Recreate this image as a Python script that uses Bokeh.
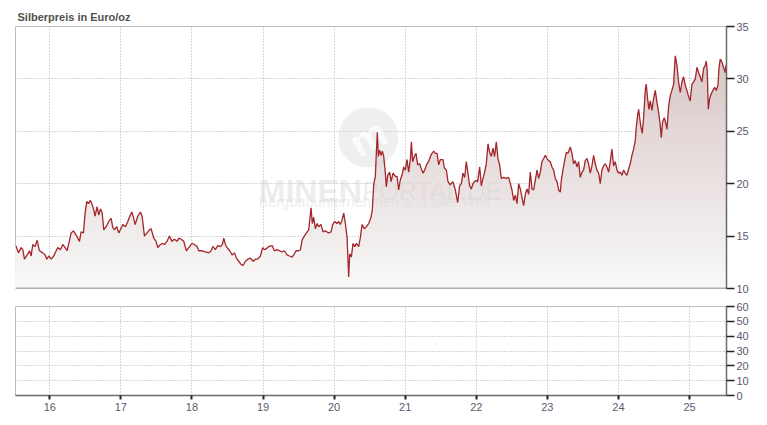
import numpy as np
from bokeh.plotting import figure
from bokeh.layouts import column
from bokeh.models import Range1d, FixedTicker, Span, Grid
from bokeh.embed import file_html
from bokeh.resources import INLINE
from bokeh.core.properties import value

# ---- data (decimal year, EUR/oz) ----
dates = [
    2015.518, 2015.527, 2015.560, 2015.597, 2015.621, 2015.644, 2015.682, 2015.715, 2015.738, 2015.761,
    2015.794, 2015.822, 2015.855, 2015.902, 2015.935, 2015.958, 2015.986, 2016.019, 2016.057, 2016.090,
    2016.113, 2016.150, 2016.183, 2016.216, 2016.244, 2016.268, 2016.301, 2016.333, 2016.371, 2016.418,
    2016.441, 2016.474, 2016.497, 2016.521, 2016.544, 2016.572, 2016.596, 2016.619, 2016.638, 2016.666,
    2016.690, 2016.713, 2016.737, 2016.760, 2016.793, 2016.830, 2016.863, 2016.887, 2016.910, 2016.943,
    2016.971, 2016.994, 2017.027, 2017.065, 2017.098, 2017.126, 2017.154, 2017.173, 2017.201, 2017.238,
    2017.276, 2017.299, 2017.332, 2017.369, 2017.402, 2017.426, 2017.463, 2017.496, 2017.519, 2017.557,
    2017.590, 2017.613, 2017.650, 2017.683, 2017.721, 2017.754, 2017.791, 2017.815, 2017.847, 2017.885,
    2017.922, 2017.955, 2018.002, 2018.035, 2018.072, 2018.096, 2018.143, 2018.190, 2018.237, 2018.269,
    2018.297, 2018.330, 2018.363, 2018.401, 2018.429, 2018.448, 2018.471, 2018.494, 2018.532, 2018.565,
    2018.598, 2018.626, 2018.658, 2018.691, 2018.719, 2018.752, 2018.785, 2018.823, 2018.860, 2018.893,
    2018.926, 2018.963, 2018.996, 2019.019, 2019.048, 2019.080, 2019.127, 2019.160, 2019.198, 2019.235,
    2019.268, 2019.301, 2019.338, 2019.371, 2019.409, 2019.432, 2019.465, 2019.502, 2019.526, 2019.549,
    2019.572, 2019.610, 2019.643, 2019.657, 2019.675, 2019.694, 2019.713, 2019.736, 2019.760, 2019.783,
    2019.816, 2019.844, 2019.877, 2019.924, 2019.957, 2019.980, 2020.008, 2020.041, 2020.065, 2020.088,
    2020.111, 2020.135, 2020.158, 2020.182, 2020.205, 2020.219, 2020.243, 2020.266, 2020.290, 2020.313,
    2020.346, 2020.370, 2020.393, 2020.426, 2020.454, 2020.487, 2020.519, 2020.538, 2020.557, 2020.580,
    2020.594, 2020.608, 2020.622, 2020.641, 2020.660, 2020.679, 2020.698, 2020.721, 2020.735, 2020.754,
    2020.782, 2020.801, 2020.829, 2020.862, 2020.885, 2020.908, 2020.932, 2020.955, 2020.979, 2021.002,
    2021.026, 2021.049, 2021.073, 2021.087, 2021.105, 2021.129, 2021.152, 2021.176, 2021.204, 2021.223,
    2021.251, 2021.274, 2021.307, 2021.330, 2021.354, 2021.377, 2021.401, 2021.424, 2021.448, 2021.471,
    2021.494, 2021.532, 2021.551, 2021.579, 2021.602, 2021.635, 2021.672, 2021.705, 2021.738, 2021.766,
    2021.790, 2021.813, 2021.837, 2021.860, 2021.883, 2021.907, 2021.930, 2021.954, 2021.987, 2022.019,
    2022.048, 2022.071, 2022.094, 2022.118, 2022.141, 2022.165, 2022.188, 2022.212, 2022.235, 2022.258,
    2022.282, 2022.305, 2022.329, 2022.352, 2022.385, 2022.418, 2022.455, 2022.479, 2022.502, 2022.526,
    2022.549, 2022.573, 2022.596, 2022.619, 2022.643, 2022.666, 2022.690, 2022.713, 2022.737, 2022.760,
    2022.784, 2022.807, 2022.830, 2022.854, 2022.877, 2022.901, 2022.924, 2022.948, 2022.971, 2022.995,
    2023.018, 2023.041, 2023.065, 2023.088, 2023.112, 2023.135, 2023.159, 2023.182, 2023.196, 2023.219,
    2023.243, 2023.266, 2023.290, 2023.323, 2023.346, 2023.369, 2023.393, 2023.416, 2023.440, 2023.463,
    2023.487, 2023.510, 2023.533, 2023.557, 2023.580, 2023.604, 2023.627, 2023.651, 2023.674, 2023.698,
    2023.721, 2023.744, 2023.768, 2023.791, 2023.815, 2023.838, 2023.862, 2023.885, 2023.908, 2023.932,
    2023.955, 2023.979, 2024.002, 2024.026, 2024.049, 2024.073, 2024.096, 2024.119, 2024.143, 2024.166,
    2024.190, 2024.213, 2024.237, 2024.251, 2024.269, 2024.284, 2024.298, 2024.316, 2024.335, 2024.354,
    2024.377, 2024.391, 2024.410, 2024.429, 2024.448, 2024.471, 2024.494, 2024.518, 2024.541, 2024.565,
    2024.588, 2024.602, 2024.621, 2024.645, 2024.668, 2024.682, 2024.705, 2024.729, 2024.752, 2024.776,
    2024.799, 2024.823, 2024.846, 2024.870, 2024.893, 2024.916, 2024.940, 2024.963, 2024.987, 2025.010,
    2025.034, 2025.057, 2025.081, 2025.104, 2025.128, 2025.151, 2025.174, 2025.198, 2025.221, 2025.235,
    2025.249, 2025.264, 2025.282, 2025.306, 2025.329, 2025.353, 2025.376, 2025.400, 2025.414, 2025.432,
    2025.456, 2025.479, 2025.503, 2025.512,
]
prices = [
    14.1, 14.0, 13.4, 13.9, 13.7, 12.8, 13.2, 13.6, 13.1, 14.2,
    14.0, 14.6, 13.6, 13.4, 13.2, 12.8, 13.1, 12.8, 13.1, 13.6,
    13.9, 13.7, 14.2, 13.9, 13.6, 14.3, 15.3, 15.5, 15.1, 14.5,
    15.4, 15.3, 17.2, 18.3, 18.1, 18.4, 18.0, 17.5, 16.9, 17.8,
    17.0, 17.6, 17.2, 15.6, 15.9, 16.4, 16.7, 15.8, 15.6, 15.9,
    15.3, 15.6, 16.1, 15.9, 16.4, 16.9, 17.3, 16.9, 16.1, 16.9,
    17.3, 16.9, 15.0, 15.3, 15.6, 15.7, 14.8, 14.5, 13.9, 14.2,
    14.3, 14.2, 14.5, 15.0, 14.5, 14.7, 14.5, 14.8, 14.7, 14.5,
    13.6, 13.9, 14.3, 14.2, 14.0, 13.6, 13.6, 13.5, 13.4, 13.6,
    14.0, 13.7, 14.1, 14.0, 14.2, 14.8, 14.2, 13.9, 13.6, 13.2,
    13.4, 12.9, 12.6, 12.3, 12.2, 12.6, 12.8, 12.9, 12.6, 12.8,
    12.8, 13.1, 13.9, 13.7, 13.8, 14.0, 14.1, 13.6, 13.7, 13.6,
    13.5, 13.6, 13.2, 13.1, 13.0, 13.2, 13.6, 13.6, 13.7, 14.6,
    14.9, 15.3, 15.6, 16.5, 17.7, 16.2, 16.8, 15.7, 16.2, 15.9,
    16.1, 15.4, 15.5, 15.3, 15.4, 16.1, 16.4, 16.2, 16.4, 16.1,
    16.5, 17.2, 16.2, 14.9, 11.1, 13.3, 13.0, 14.3, 14.0, 14.3,
    14.0, 14.9, 16.1, 15.7, 15.9, 16.2, 16.8, 17.5, 19.9, 20.7,
    22.9, 24.9, 22.6, 23.2, 22.7, 23.1, 22.6, 21.0, 19.7, 20.8,
    21.1, 20.2, 21.0, 20.7, 20.7, 19.4, 20.4, 20.8, 21.6, 21.3,
    22.3, 21.1, 22.3, 24.0, 22.1, 22.6, 22.9, 21.8, 21.9, 21.5,
    21.0, 21.3, 21.9, 22.1, 22.6, 22.9, 23.1, 22.9, 22.9, 21.8,
    22.3, 22.3, 21.5, 21.3, 20.2, 19.9, 20.2, 19.4, 18.2, 19.8,
    20.0, 21.0, 20.6, 22.1, 21.0, 19.8, 19.5, 20.0, 20.3, 20.2,
    21.6, 19.8, 20.5, 21.1, 21.9, 23.8, 23.0, 22.6, 23.4, 22.6,
    24.0, 22.4, 21.8, 20.5, 20.6, 20.5, 20.6, 20.0, 19.4, 18.4,
    18.9, 18.1, 20.0, 19.5, 18.7, 17.9, 19.0, 19.5, 19.0, 21.1,
    19.5, 19.4, 20.3, 21.3, 20.5, 21.1, 22.1, 22.4, 22.7, 22.4,
    22.2, 22.1, 21.6, 21.3, 20.5, 20.2, 19.4, 19.2, 20.3, 21.3,
    22.2, 23.0, 22.9, 23.5, 22.9, 21.9, 22.2, 21.6, 22.1, 20.6,
    21.1, 21.3, 22.2, 22.4, 21.9, 21.0, 21.7, 22.7, 21.9, 21.3,
    21.0, 20.0, 21.3, 21.7, 21.9, 21.6, 21.1, 22.1, 23.3, 21.7,
    22.1, 21.3, 21.0, 21.1, 20.8, 21.3, 21.0, 20.8, 21.4, 21.9,
    22.7, 23.3, 24.1, 25.4, 26.5, 27.1, 26.3, 25.4, 24.8, 26.3,
    28.9, 29.5, 28.1, 27.1, 27.9, 27.0, 28.1, 28.9, 27.8, 26.8,
    25.6, 24.4, 25.9, 26.3, 25.7, 25.2, 27.3, 28.4, 28.9, 29.5,
    32.2, 31.3, 29.7, 28.7, 29.7, 30.2, 29.4, 28.9, 28.3, 27.9,
    29.5, 29.7, 30.0, 31.1, 30.6, 30.2, 29.7, 31.0, 31.3, 31.7,
    30.8, 27.1, 28.1, 28.6, 28.9, 29.2, 28.9, 29.4, 31.0, 31.9,
    31.6, 31.1, 30.6, 31.3,
]
year_ticks = [2016, 2017, 2018, 2019, 2020, 2021, 2022, 2023, 2024, 2025]
year_labels = ["16", "17", "18", "19", "20", "21", "22", "23", "24", "25"]
price_ticks = [10, 15, 20, 25, 30, 35]
lower_ticks = [0, 10, 20, 30, 40, 50, 60]

FONT = "Liberation Sans"
LABEL_COLOR = "#5a5a70"
GRID_COLOR = "#b0b0b0"

x = np.array(dates)
y = np.array(prices)
x_range = Range1d(2015.518, 2025.52)

# ---------------- top panel ----------------
p = figure(frame_width=711, frame_height=262, x_range=x_range, y_range=Range1d(10, 35),
           x_axis_location=None, y_axis_location="right",
           output_backend="svg", toolbar_location=None,
           min_border_left=15, min_border_right=4, min_border_top=26, min_border_bottom=7,
           title="Silberpreis in Euro/oz")
p.title.text_font = FONT
p.title.text_font_size = "11px"
p.title.text_font_style = "bold"
p.title.text_color = "#505050"
p.title.align = "left"
p.title.offset = 2
p.title.standoff = 8
p.outline_line_color = "#bdbdbd"
p.outline_line_width = 1
p.background_fill_color = "white"
p.border_fill_color = "white"

p.xgrid.visible = False
p.ygrid.visible = False
p.add_layout(Grid(dimension=0, ticker=FixedTicker(ticks=year_ticks),
                  grid_line_color=GRID_COLOR, grid_line_dash="1 2"))
p.add_layout(Grid(dimension=1, ticker=FixedTicker(ticks=price_ticks[1:-1]),
                  grid_line_color=GRID_COLOR, grid_line_dash="1 2"))

# vertical gradient fill under the curve (stacked bands)
bottom_rgb = np.array([249, 248, 248])
top_rgb = np.array([212, 192, 192])
levels = np.arange(35.0, 10.0, -0.5)
for hi in levels:
    t = (hi - 0.25 - 10) / 25.0
    c = bottom_rgb + (top_rgb - bottom_rgb) * t
    col = "#%02x%02x%02x" % tuple(int(round(v)) for v in c)
    p.varea(x=x, y1=10, y2=np.minimum(y, hi), fill_color=col)

# faint watermark
p.scatter(x=[2020.48], y=[24.4], size=60, marker="circle", fill_color="#dcdcdc",
          line_color=None, fill_alpha=0.45)
p.text(x=[2020.48], y=[24.4], text=["m"], text_font=value(FONT), text_font_style="bold",
       text_font_size="40px", text_color="white", text_alpha=0.8,
       text_align="center", text_baseline="middle", angle=0.5)
p.text(x=[2018.94], y=[19.35], text=["MINEN"], text_font=value(FONT), text_font_style="bold",
       text_font_size="32px", text_color="#d6d6d6", text_alpha=0.45, text_baseline="alphabetic")
p.text(x=[2020.40], y=[19.35], text=["PORTAL.DE"], text_font=value(FONT),
       text_font_size="25px", text_color="#d6d6d6", text_alpha=0.45, text_baseline="alphabetic")
p.text(x=[2018.94], y=[18.25], text=["Bergbauunternehmen aus aller Welt"], text_font=value(FONT),
       text_font_size="14.5px", text_color="#d6d6d6", text_alpha=0.45, text_baseline="alphabetic")

p.line(x=x, y=y, line_color="#a3272b", line_width=1.3)

p.add_layout(Span(location=10, dimension="width", line_color="#6a6a6a", line_width=1.5))

ya = p.yaxis[0]
ya.ticker = FixedTicker(ticks=price_ticks)
ya.axis_line_color = "#6a6a6a"
ya.axis_line_width = 1.5
ya.major_tick_line_color = "#222222"
ya.major_tick_line_width = 1.5
ya.major_tick_in = 0
ya.major_tick_out = 8
ya.minor_tick_line_color = None
ya.major_label_standoff = 2
ya.major_label_text_font = FONT
ya.major_label_text_font_size = "11px"
ya.major_label_text_color = LABEL_COLOR

# ---------------- bottom panel ----------------
q = figure(frame_width=711, frame_height=89, x_range=x_range, y_range=Range1d(0, 60),
           y_axis_location="right", output_backend="svg", toolbar_location=None,
           min_border_left=15, min_border_right=4, min_border_top=11, min_border_bottom=0)
q.outline_line_color = "#bdbdbd"
q.background_fill_color = "white"
q.border_fill_color = "white"
q.xgrid.visible = False
q.ygrid.visible = False
q.add_layout(Grid(dimension=0, ticker=FixedTicker(ticks=year_ticks),
                  grid_line_color=GRID_COLOR, grid_line_dash="1 2"))
q.add_layout(Grid(dimension=1, ticker=FixedTicker(ticks=lower_ticks[1:-1]),
                  grid_line_color=GRID_COLOR, grid_line_dash="1 2"))

xa = q.xaxis[0]
xa.ticker = FixedTicker(ticks=year_ticks)
xa.major_label_overrides = {t: l for t, l in zip(year_ticks, year_labels)}
xa.axis_line_color = "#6a6a6a"
xa.axis_line_width = 1.5
xa.major_tick_line_color = "#222222"
xa.major_tick_line_width = 2
xa.major_tick_in = 0
xa.major_tick_out = 4
xa.minor_tick_line_color = None
xa.major_label_standoff = 3
xa.major_label_text_font = FONT
xa.major_label_text_font_size = "11px"
xa.major_label_text_color = LABEL_COLOR

qa = q.yaxis[0]
qa.ticker = FixedTicker(ticks=lower_ticks)
qa.axis_line_color = "#6a6a6a"
qa.axis_line_width = 1.5
qa.major_tick_line_color = "#222222"
qa.major_tick_line_width = 1.5
qa.major_tick_in = 0
qa.major_tick_out = 8
qa.minor_tick_line_color = None
qa.major_label_standoff = 2
qa.major_label_text_font = FONT
qa.major_label_text_font_size = "11px"
qa.major_label_text_color = LABEL_COLOR

layout = column(p, q, spacing=0)
open("out.html", "w").write(file_html(layout, INLINE))
